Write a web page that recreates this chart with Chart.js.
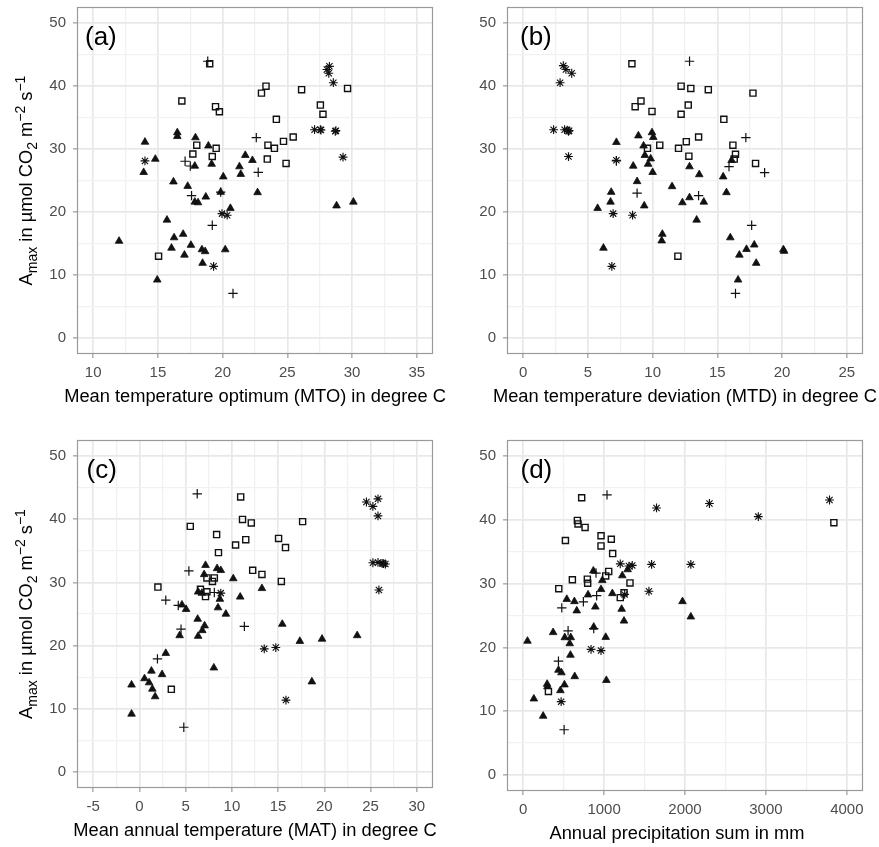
<!DOCTYPE html>
<html><head><meta charset="utf-8">
<script src="https://cdn.jsdelivr.net/npm/chart.js@4/dist/chart.umd.min.js"></script>
<style>
html,body{margin:0;padding:0;background:#fff;}
#wrap{position:relative;width:879px;height:847px;background:#fff;}
canvas{position:absolute;left:0;top:0;}
</style></head><body>
<div id="wrap">
<canvas id="pa" width="879" height="847"></canvas>
<canvas id="pb" width="879" height="847"></canvas>
<canvas id="pc" width="879" height="847"></canvas>
<canvas id="pd" width="879" height="847"></canvas>
</div>
<script>
// ---------- data (x, Amax) ----------
// Panel (a): mean temperature optimum
const A_TRI = [[14.0,31.1],[14.8,28.4],[13.9,26.3],[16.5,32.6],[16.5,32.0],[17.9,31.8],[18.9,30.5],[19.15,27.6],[17.85,27.3],[16.2,24.8],[17.3,24.1],[20.05,25.6],[21.3,27.2],[21.4,26.0],[21.75,29.0],[22.3,28.2],[22.7,23.1],[18.7,22.4],[17.85,21.6],[18.1,21.5],[19.85,23.15],[20.6,20.6],[15.7,18.75],[12.0,15.4],[16.25,15.95],[16.95,16.5],[16.05,14.3],[17.55,14.75],[17.05,13.2],[18.4,14.05],[18.65,13.75],[20.2,14.05],[18.45,11.9],[14.95,9.25],[28.8,21.0],[30.1,21.6]];
const A_SQ = [[19.0,43.5],[16.85,37.6],[19.45,36.7],[19.75,35.9],[23.35,39.95],[23.0,38.85],[26.1,39.4],[29.65,39.6],[27.55,36.95],[27.75,35.5],[24.15,34.7],[25.45,31.9],[24.7,31.2],[23.5,30.6],[24.0,30.1],[23.45,28.4],[24.9,27.7],[18.0,30.6],[19.5,30.1],[17.7,29.2],[19.2,28.8],[15.05,13.0]];
const A_PLUS = [[18.85,43.9],[22.6,31.8],[17.1,28.05],[17.5,27.3],[22.75,26.3],[17.6,22.6],[19.85,23.15],[19.2,17.9],[20.8,7.1]];
const A_AST = [[28.25,43.1],[28.05,42.6],[28.2,42.0],[28.55,40.5],[27.1,33.05],[27.55,33.05],[27.6,33.0],[28.7,32.8],[28.75,32.9],[29.3,28.7],[14.0,28.1],[19.95,19.75],[20.35,19.5],[19.3,11.4]];

// Panel (b): mean temperature deviation
const B_TRI = [[7.2,31.05],[8.9,32.1],[9.95,32.6],[10.05,31.85],[9.3,30.5],[9.4,29.0],[9.85,28.45],[9.65,27.6],[8.5,27.3],[10.0,26.3],[12.85,27.2],[13.6,25.95],[15.45,25.6],[16.1,28.2],[8.8,24.85],[11.5,24.05],[6.8,23.15],[12.85,22.3],[15.7,23.1],[6.75,21.6],[5.75,20.6],[9.35,21.0],[12.3,21.5],[13.95,21.6],[13.4,18.75],[10.75,16.5],[10.7,15.45],[6.2,14.3],[16.0,15.95],[16.7,13.2],[17.25,14.1],[17.85,14.8],[20.1,14.05],[20.15,13.8],[18.0,11.9],[16.6,9.25]];
const B_SQ = [[8.4,43.5],[12.2,39.95],[12.95,39.6],[14.3,39.4],[17.75,38.85],[9.1,37.6],[8.65,36.7],[9.95,35.95],[12.75,36.95],[12.2,35.5],[15.5,34.7],[13.55,31.9],[12.6,31.15],[10.55,30.6],[9.6,30.1],[12.0,30.1],[16.2,30.6],[16.4,29.15],[16.3,28.4],[12.8,28.85],[17.95,27.7],[11.95,13.0]];
const B_PLUS = [[12.85,43.9],[17.2,31.8],[7.2,28.1],[15.9,27.2],[18.65,26.25],[8.8,23.0],[13.55,22.6],[17.65,17.9],[16.4,7.1]];
const B_AST = [[3.1,43.2],[3.3,42.6],[3.75,42.0],[2.85,40.5],[2.35,33.05],[3.2,33.05],[3.4,33.0],[3.5,32.8],[3.55,32.9],[3.5,28.8],[7.2,28.2],[6.95,19.75],[8.45,19.5],[6.85,11.4]];

// Panel (c): mean annual temperature
const C_TRI = [[7.15,32.7],[7.0,31.25],[8.4,32.2],[8.8,31.9],[10.15,30.6],[13.25,29.05],[10.9,27.7],[6.35,28.5],[6.75,28.3],[8.7,27.35],[8.5,26.0],[9.35,25.0],[4.6,26.45],[5.05,25.75],[6.3,24.2],[7.05,23.15],[6.8,22.4],[6.35,21.5],[4.35,21.6],[2.85,18.8],[15.45,23.4],[17.35,20.7],[19.75,21.05],[23.55,21.6],[8.05,16.5],[18.65,14.3],[1.3,16.0],[0.55,14.8],[2.45,15.45],[1.05,14.15],[1.4,13.15],[1.7,11.95],[-0.85,13.8],[-0.85,9.2]];
const C_SQ = [[10.95,43.5],[11.15,39.95],[12.1,39.4],[17.65,39.6],[5.5,38.85],[8.35,37.55],[11.5,36.75],[10.4,35.9],[15.05,36.95],[15.8,35.5],[8.55,34.7],[12.25,31.9],[13.25,31.25],[15.35,30.15],[7.3,30.7],[8.1,30.7],[7.9,30.15],[2.0,29.25],[6.6,28.9],[7.3,28.5],[7.15,27.75],[3.45,13.1]];
const C_PLUS = [[6.25,44.0],[5.35,31.8],[8.1,28.4],[2.85,27.2],[4.2,26.35],[4.5,22.6],[11.35,23.05],[1.95,17.9],[4.8,7.1]];
const C_AST = [[25.8,43.2],[24.55,42.7],[25.25,42.0],[25.8,40.5],[25.25,33.1],[25.8,33.15],[26.25,33.0],[26.6,32.9],[26.4,32.95],[25.9,28.8],[8.8,28.3],[13.5,19.5],[14.75,19.7],[15.85,11.4]];

// Panel (d): annual precipitation sum
const D_TRI = [[867,32.0],[1225,31.25],[1291,32.2],[978,30.5],[962,29.1],[1102,28.45],[802,28.25],[539,27.55],[633,27.2],[662,25.75],[892,26.35],[1217,26.0],[1969,27.2],[2072,24.8],[1246,24.15],[872,23.2],[370,22.35],[514,21.55],[588,21.55],[575,20.6],[1020,21.6],[53,21.0],[584,18.8],[436,16.45],[473,16.05],[637,15.45],[296,14.25],[300,13.85],[510,14.15],[460,13.25],[1028,14.85],[132,11.95],[247,9.25]];
const D_SQ = [[723,43.45],[670,39.9],[678,39.35],[765,38.8],[3840,39.55],[522,36.75],[962,37.5],[1089,36.95],[962,35.9],[1106,34.7],[1057,31.9],[1020,31.2],[608,30.6],[793,30.7],[797,30.05],[1320,30.1],[440,29.2],[1246,28.55],[1200,27.8],[312,13.1]];
const D_PLUS = [[1036,43.9],[900,31.65],[908,28.1],[744,27.15],[477,26.2],[872,22.95],[555,22.6],[436,17.85],[506,7.1]];
const D_AST = [[1648,41.85],[2302,42.55],[3786,43.1],[2906,40.5],[1200,33.1],[1307,32.75],[1348,32.85],[1587,33.0],[2072,33.0],[1554,28.8],[1254,28.3],[839,19.7],[962,19.5],[469,11.5]];

// ---------- axis definitions ----------
const Y_TICKS = [0,5,10,15,20,25,30,35,40,45,50];
const A_XTICKS = [10,12.5,15,17.5,20,22.5,25,27.5,30,32.5,35];
const B_XTICKS = [0,2.5,5,7.5,10,12.5,15,17.5,20,22.5,25];
const C_XTICKS = [-5,-2.5,0,2.5,5,7.5,10,12.5,15,17.5,20,22.5,25,27.5,30];
const D_XTICKS = [0,500,1000,1500,2000,2500,3000,3500,4000];

const X_TITLES = {
  a: 'Mean temperature optimum (MTO) in degree C',
  b: 'Mean temperature deviation (MTD) in degree C',
  c: 'Mean annual temperature (MAT) in degree C',
  d: 'Annual precipitation sum in mm'
};
const Y_TITLE = [
  {t:'A'},{t:'max',s:'sub'},{t:' in \u00B5mol CO'},{t:'2',s:'sub'},{t:' m'},{t:'\u22122',s:'sup'},{t:' s'},{t:'\u22121',s:'sup'}
];

// ---------- drawing ----------
const FONT = "'Liberation Sans', Arial, Helvetica, sans-serif";
const INK = '#111111';
const CW = 879, CH = 847, YAXIS_W = 67, XAXIS_H = 60;

const pts = arr => arr.map(p => ({x:p[0], y:p[1]}));

const decorPlugin = {
  id: 'decor',
  afterDatasetsDraw(chart, args, o) {
    const ctx = chart.ctx, a = chart.chartArea;
    ctx.save();
    ctx.strokeStyle = '#9a9a9a';
    ctx.lineWidth = 1.2;
    ctx.strokeRect(Math.round(a.left)+0.5, Math.round(a.top)+0.5, Math.round(a.right-a.left)-1, Math.round(a.bottom-a.top)-1);
    ctx.restore();
  },
  afterDraw(chart, args, o) {
    const ctx = chart.ctx, a = chart.chartArea;
    ctx.save();
    ctx.fillStyle = '#000';
    ctx.textBaseline = 'alphabetic';
    ctx.textAlign = 'left';
    ctx.font = '26px ' + FONT;
    ctx.fillText(o.label, a.left + o.labelDx, a.top + 38);
    ctx.font = '18.3px ' + FONT;
    ctx.textAlign = 'center';
    ctx.fillText(o.xTitle, (a.left + a.right)/2 + (o.xTitleDx||0), a.bottom + 47.5);
    if (o.yTitle) {
      const big = '18.3px ' + FONT, small = '14px ' + FONT;
      let total = 0;
      for (const seg of o.yTitle) { ctx.font = seg.s ? small : big; total += ctx.measureText(seg.t).width; }
      ctx.translate(o.yTitleX, (a.top + a.bottom)/2);
      ctx.rotate(-Math.PI/2);
      ctx.textAlign = 'left';
      let x = -total/2;
      for (const seg of o.yTitle) {
        ctx.font = seg.s ? small : big;
        const dy = seg.s === 'sub' ? 5 : (seg.s === 'sup' ? -7 : 0);
        ctx.fillText(seg.t, x, dy);
        x += ctx.measureText(seg.t).width;
      }
    }
    ctx.restore();
  }
};

function isMajor(v, step) {
  if (v === undefined || v === null) return false;
  const r = v / step;
  return Math.abs(r - Math.round(r)) < 1e-6;
}

function makePanel(id, d) {
  const canvas = document.getElementById(id);
  const ar = d.area;
  const gridColor = (step) => (c) => isMajor(c.tick && c.tick.value, step) ? '#E8E8E8' : '#F1F1F1';
  const gridWidth = (step) => (c) => isMajor(c.tick && c.tick.value, step) ? 1.7 : 1.3;
  const tickCol = (step) => (c) => isMajor(c.tick && c.tick.value, step) ? '#9a9a9a' : 'rgba(0,0,0,0)';
  new Chart(canvas, {
    type: 'scatter',
    data: { datasets: [
      { data: pts(d.ast), pointStyle: 'star', pointRadius: 4.4, borderColor: INK, backgroundColor: INK, pointBorderWidth: 1.15 },
      { data: pts(d.plus), pointStyle: 'cross', pointRadius: 4.7, borderColor: INK, backgroundColor: INK, pointBorderWidth: 1.2 },
      { data: pts(d.sq), pointStyle: 'rect', pointRadius: 4.3, borderColor: INK, backgroundColor: 'rgba(255,255,255,0)', pointBorderWidth: 1.4 },
      { data: pts(d.tri), pointStyle: 'triangle', pointRadius: 4.4, borderColor: INK, backgroundColor: INK, pointBorderWidth: 0.8 }
    ]},
    options: {
      responsive: false, animation: false, events: [],
      layout: { padding: { left: ar.left - YAXIS_W, top: ar.top, right: CW - ar.right, bottom: CH - ar.bottom - XAXIS_H } },
      plugins: {
        legend: { display: false }, tooltip: { enabled: false },
        decor: { label: d.label, labelDx: d.labelDx, xTitle: d.xTitle, xTitleDx: d.xTitleDx, yTitle: d.yTitle, yTitleX: ar.left - 45 }
      },
      scales: {
        x: {
          type: 'linear', position: 'bottom', min: d.xMin, max: d.xMax,
          afterBuildTicks: s => { s.ticks = d.xTicks.map(v => ({ value: v })); },
          afterFit: s => { s.height = XAXIS_H; s.paddingLeft = 0; s.paddingRight = 0; },
          border: { display: false },
          grid: { color: gridColor(d.xStep), lineWidth: gridWidth(d.xStep), tickColor: tickCol(d.xStep), tickLength: 4, tickWidth: 1.2, drawTicks: true },
          ticks: { autoSkip: false, maxRotation: 0, padding: 6, color: '#4D4D4D', font: { family: FONT, size: 15 },
                   callback: v => isMajor(v, d.xStep) ? String(v) : '' }
        },
        y: {
          type: 'linear', position: 'left', min: -2.5, max: 52.5,
          afterBuildTicks: s => { s.ticks = Y_TICKS.map(v => ({ value: v })); },
          afterFit: s => { s.width = YAXIS_W; s.paddingTop = 0; s.paddingBottom = 0; },
          border: { display: false },
          grid: { color: gridColor(10), lineWidth: gridWidth(10), tickColor: tickCol(10), tickLength: 4, tickWidth: 1.2, drawTicks: true },
          ticks: { autoSkip: false, padding: 7, color: '#4D4D4D', font: { family: FONT, size: 15 },
                   callback: v => isMajor(v, 10) ? String(v) : '' }
        }
      }
    },
    plugins: [decorPlugin]
  });
}

makePanel('pa', { tri: A_TRI, sq: A_SQ, plus: A_PLUS, ast: A_AST, xMin: 8.75, xMax: 36.25, xTicks: A_XTICKS, xStep: 5,
  area: { left: 77, top: 7, right: 433, bottom: 354 }, label: '(a)', labelDx: 8, xTitle: X_TITLES.a, yTitle: Y_TITLE });
makePanel('pb', { tri: B_TRI, sq: B_SQ, plus: B_PLUS, ast: B_AST, xMin: -1.25, xMax: 26.25, xTicks: B_XTICKS, xStep: 5,
  area: { left: 507, top: 7, right: 863, bottom: 354 }, label: '(b)', labelDx: 13, xTitle: X_TITLES.b });
makePanel('pc', { tri: C_TRI, sq: C_SQ, plus: C_PLUS, ast: C_AST, xMin: -6.75, xMax: 31.75, xTicks: C_XTICKS, xStep: 5,
  area: { left: 77, top: 440, right: 433, bottom: 788 }, label: '(c)', labelDx: 9.5, xTitle: X_TITLES.c, yTitle: Y_TITLE });
makePanel('pd', { tri: D_TRI, sq: D_SQ, plus: D_PLUS, ast: D_AST, xMin: -200, xMax: 4200, xTicks: D_XTICKS, xStep: 1000,
  area: { left: 507, top: 440, right: 863, bottom: 791 }, label: '(d)', labelDx: 13.5, xTitle: X_TITLES.d, xTitleDx: -8 });
</script>
</body></html>
